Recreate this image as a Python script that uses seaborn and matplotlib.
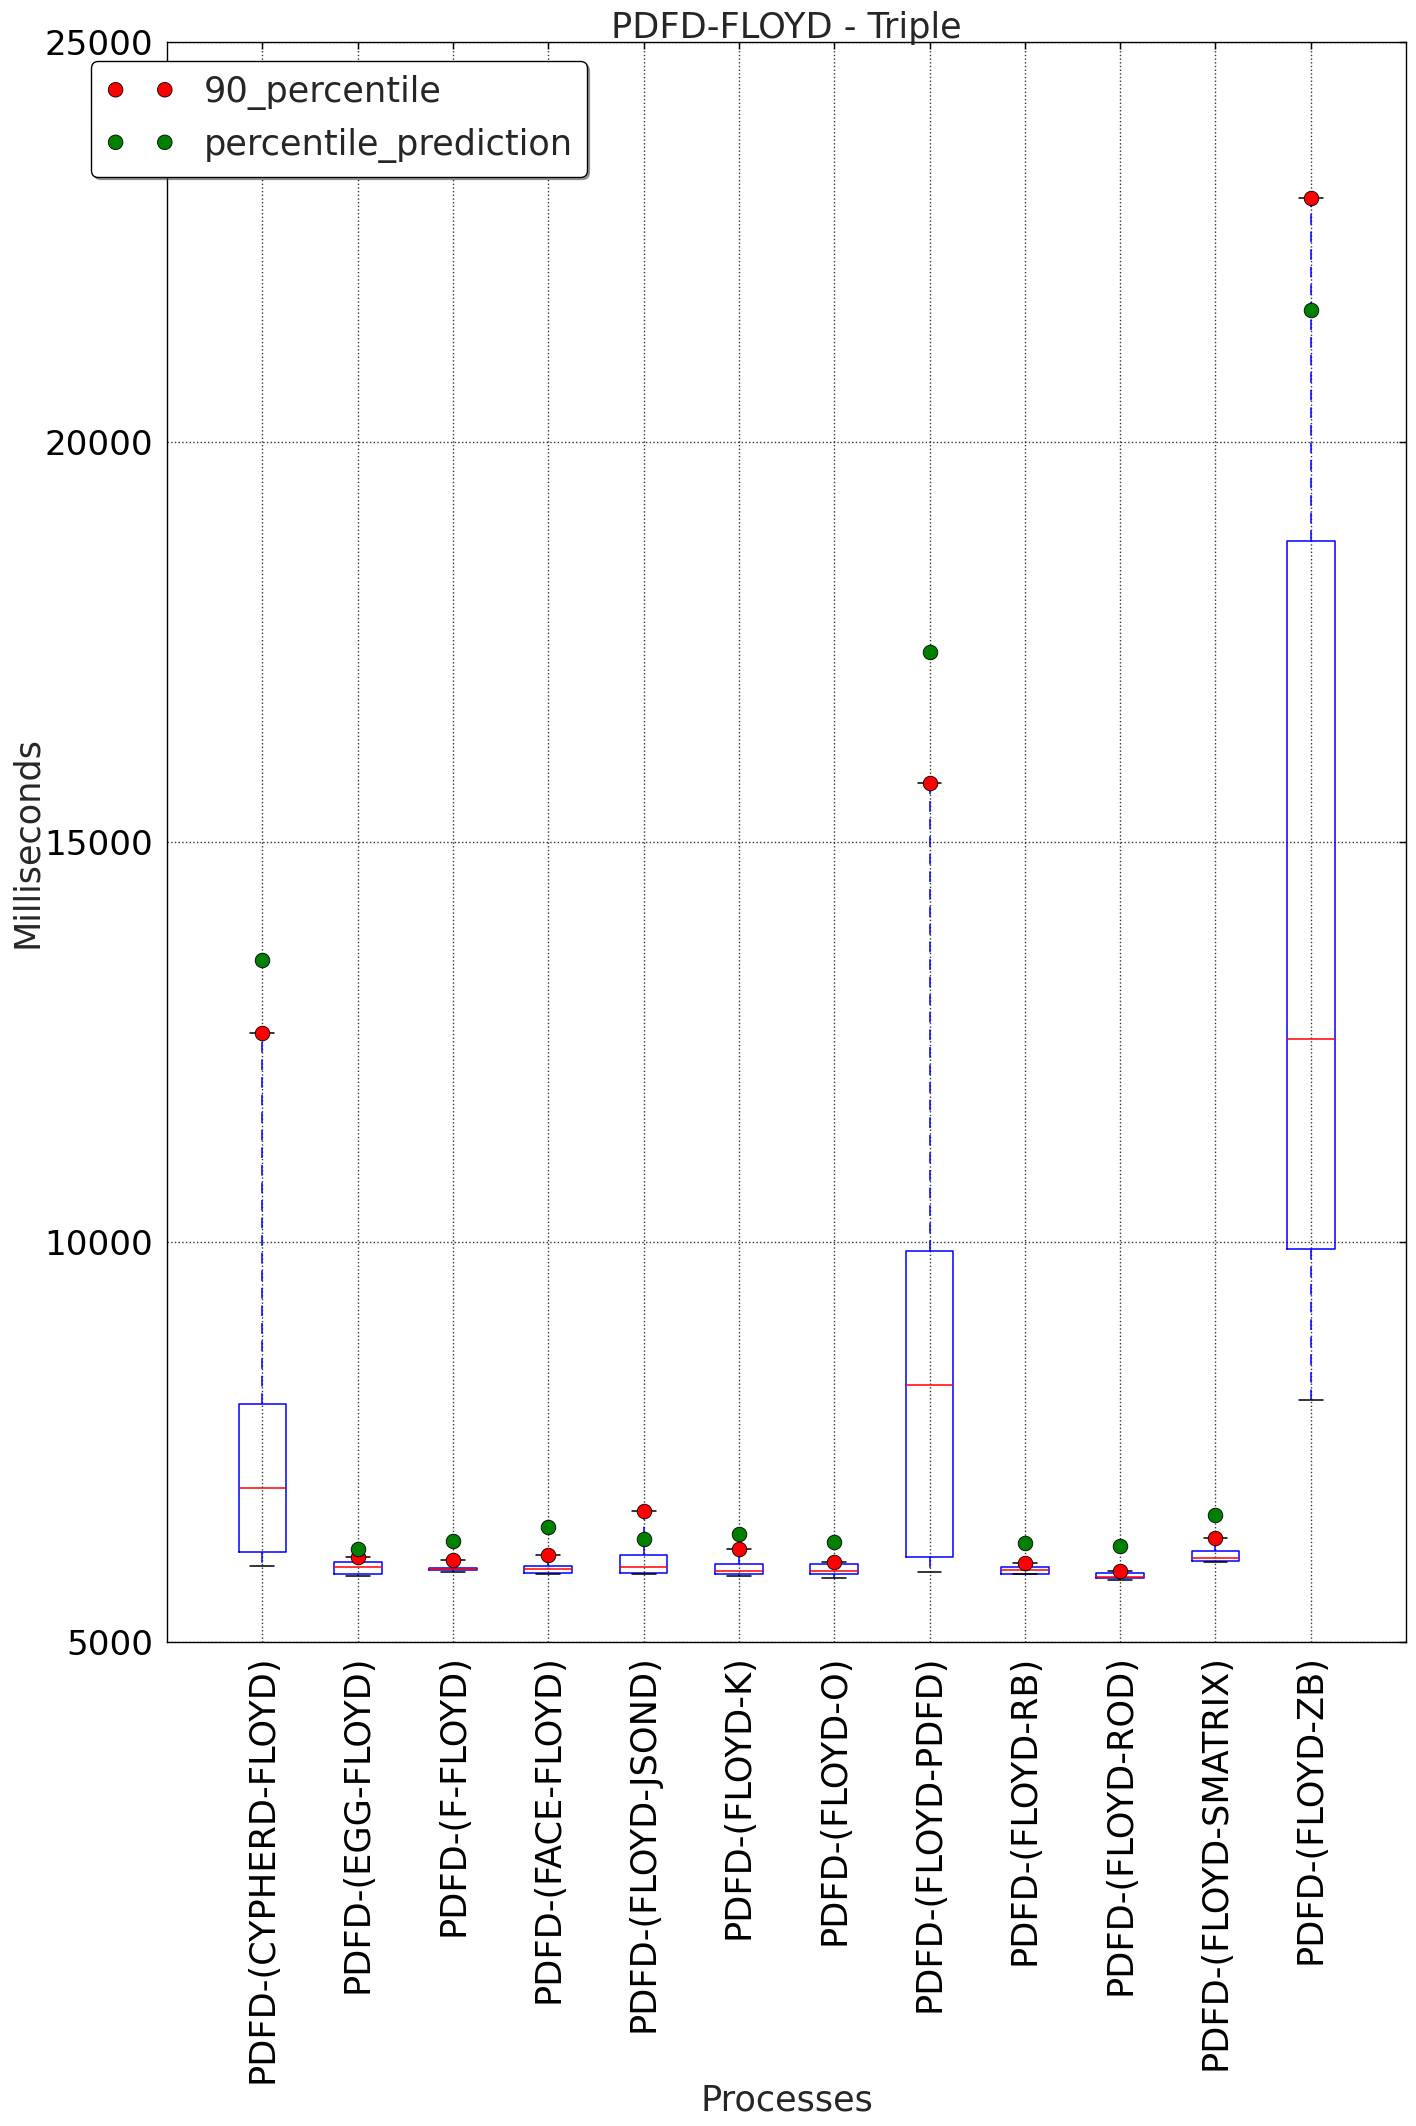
import numpy as np
import pandas as pd
import matplotlib
matplotlib.use("Agg")
import matplotlib.pyplot as plt
import seaborn as sns

categories = ["PDFD-(CYPHERD-FLOYD)", "PDFD-(EGG-FLOYD)", "PDFD-(F-FLOYD)",
              "PDFD-(FACE-FLOYD)", "PDFD-(FLOYD-JSOND)", "PDFD-(FLOYD-K)",
              "PDFD-(FLOYD-O)", "PDFD-(FLOYD-PDFD)", "PDFD-(FLOYD-RB)",
              "PDFD-(FLOYD-ROD)", "PDFD-(FLOYD-SMATRIX)", "PDFD-(FLOYD-ZB)"]
whisker_low = [5955, 5821, 5871, 5846, 5846, 5829, 5796, 5876, 5846, 5771, 5996, 8021]
q1 = [6120, 5854, 5896, 5867, 5867, 5846, 5846, 6065, 5854, 5796, 6008, 9913]
median = [6920, 5934, 5913, 5913, 5933, 5883, 5883, 8209, 5896, 5816, 6046, 12534]
q3 = [7980, 5996, 5929, 5950, 6083, 5971, 5971, 9893, 5933, 5858, 6133, 18759]
whisker_high = [12616, 6058, 6021, 6083, 6637, 6158, 5996, 15733, 5983, 5883, 6296, 23054]
p90 = [12616, 6058, 6021, 6083, 6637, 6158, 5996, 15733, 5983, 5883, 6296, 23054]
prediction = [13521, 6162, 6262, 6437, 6283, 6350, 6250, 17381, 6233, 6196, 6583, 21646]
yticks = [5000, 10000, 15000, 20000, 25000]

# five-number summaries -> rows for a boxplot whose whiskers span min..max
rows = []
for i, c in enumerate(categories):
    for v in (whisker_low[i], q1[i], median[i], q3[i], whisker_high[i]):
        rows.append({"process": c, "ms": v})
df = pd.DataFrame(rows)

sns.set_style("white")
plt.rcParams["font.family"] = ["DejaVu Sans"]

fig = plt.figure(figsize=(14.16, 21.26), dpi=100)
ax = fig.add_axes([0.118, 0.2277, 0.875, 0.7525])

sns.boxplot(data=df, x="process", y="ms", order=categories, whis=(0, 100),
            width=0.5, fill=False, color="blue", linewidth=1.1, ax=ax,
            boxprops=dict(color="blue"),
            medianprops=dict(color="red"),
            whiskerprops=dict(color="blue", linestyle=(0, (7, 4.5))),
            capprops=dict(color="black"),
            showfliers=False)

sns.stripplot(x=categories, y=p90, order=categories, jitter=False, color="red",
              edgecolor="black", linewidth=0.6, size=10.5, ax=ax,
              label="90_percentile", zorder=5)
sns.stripplot(x=categories, y=prediction, order=categories, jitter=False,
              color="green", edgecolor="black", linewidth=0.6, size=10.5, ax=ax,
              label="percentile_prediction", zorder=5)

ax.set_xlim(-1, len(categories))
ax.set_ylim(5000, 25000)
ax.set_yticks(yticks)
ax.set_yticklabels([str(t) for t in yticks])
ax.set_xticks(range(len(categories)))
ax.set_xticklabels(categories, rotation=90)
ax.grid(True, linestyle=":", color="black", linewidth=1.0, alpha=0.8)
ax.set_axisbelow(True)
for s in ax.spines.values():
    s.set_color("black")
    s.set_linewidth(1.0)
ax.tick_params(axis="both", direction="in", length=5, width=1, top=True,
               right=True, colors="black")
ax.tick_params(axis="y", pad=10, labelsize=24.6)
ax.tick_params(axis="x", pad=9, labelsize=25.3)

ax.set_title("PDFD-FLOYD - Triple", fontsize=25.3, pad=3)
ax.set_ylabel("Milliseconds", fontsize=25.3, va="center")
ax.yaxis.set_label_coords((27 - 167) / 1239, 0.5)
ax.set_xlabel("Processes", fontsize=25.3, labelpad=0)

handles, labels = ax.get_legend_handles_labels()
seen = {}
for h, l in zip(handles, labels):
    if l not in seen:
        seen[l] = h
leg = ax.legend(list(seen.values()), list(seen.keys()), loc="upper left",
                bbox_to_anchor=(91 / 1416, 1 - 61 / 2126),
                bbox_transform=fig.transFigure, borderaxespad=0,
                scatterpoints=2, scatteryoffsets=[0.5], fontsize=25.3,
                frameon=True, fancybox=True, shadow=True, framealpha=1,
                edgecolor="black", handletextpad=0.8, borderpad=0.4,
                labelspacing=0.5)
leg.get_frame().set_linewidth(1.0)

fig.savefig("out.png", dpi=100)
